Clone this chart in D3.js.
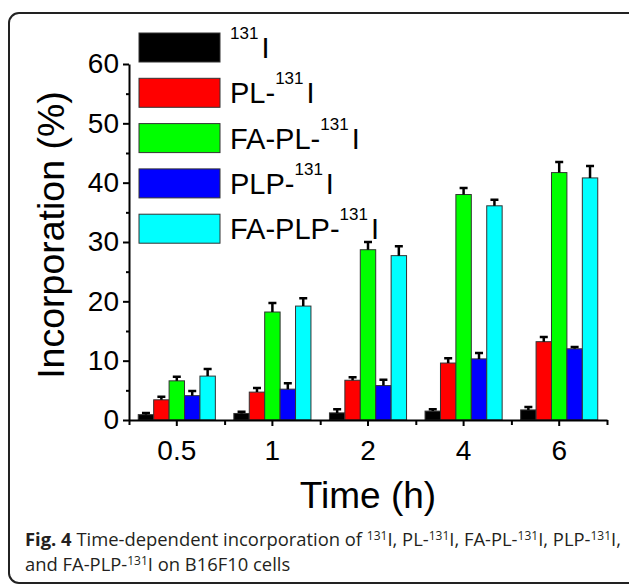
<!DOCTYPE html>
<html lang="en">
<head>
<meta charset="UTF-8">
<title>Time-dependent incorporation</title>
<script src="https://d3js.org/d3.v7.min.js"></script>
<style>
  body { margin: 0; background: #fff; }
  svg text { font-family: "Liberation Sans", Arial, sans-serif; fill: #000; }
</style>
</head>
<body>
<svg id="chart" width="629" height="584"></svg>
<script>
// data
const times = ["0.5", "1", "2", "4", "6"];
const seriesNames = ["", "PL-", "FA-PL-", "PLP-", "FA-PLP-"];   // prefix before 131I
const colors = ["#000000", "#ff0000", "#00ff00", "#0000ff", "#00ffff"];
const values = [
  [0.9, 1.1, 1.2, 1.5, 1.7],
  [3.4, 4.7, 6.7, 9.6, 13.2],
  [6.6, 18.2, 28.7, 38.0, 41.7],
  [4.1, 5.2, 5.8, 10.3, 12.0],
  [7.4, 19.2, 27.7, 36.1, 40.8]
];
const errors = [
  [0.3, 0.3, 0.6, 0.3, 0.5],
  [0.5, 0.7, 0.5, 0.8, 0.8],
  [0.7, 1.5, 1.3, 1.1, 1.8],
  [0.8, 1.0, 1.0, 1.0, 0.3],
  [1.2, 1.3, 1.6, 1.0, 2.0]
];
const yTicks = [0, 10, 20, 30, 40, 50, 60];
const yMinor = [5, 15, 25, 35, 45, 55];

const svg = d3.select("#chart");
const sans = "'Liberation Sans', Arial, sans-serif";

// rounded frame around figure
svg.append("rect")
  .attr("x", 9).attr("y", 13)
  .attr("width", 640).attr("height", 570)
  .attr("rx", 10)
  .attr("fill", "none").attr("stroke", "#222").attr("stroke-width", 2);

const y = d3.scaleLinear().domain([0, 60]).range([420, 64]);
const x0 = d3.scaleBand().domain(times).range([129, 607]);
const x1 = d3.scaleBand().domain(d3.range(seriesNames.length))
  .range([0, x0.bandwidth()]).paddingOuter(0.6);
const xEdges = d3.scaleLinear().domain([0, times.length]).range([129, 607]);

// superscript helper
function richText(sel, x, yPos, runs, size, supSize, rise) {
  const t = sel.append("text").attr("x", x).attr("y", yPos).style("font-size", size + "px");
  let up = false;
  runs.forEach(r => {
    const ts = t.append("tspan").text(r.t);
    if (r.sup) { ts.attr("dy", -rise).style("font-size", supSize + "px"); up = true; }
    else if (up) { ts.attr("dy", rise); up = false; }
    if (r.dx) ts.attr("dx", r.dx);
    if (r.bold) ts.style("font-weight", "bold");
  });
  return t;
}

// bars
const groups = svg.append("g").selectAll("g")
  .data(times)
  .join("g")
  .attr("transform", d => `translate(${x0(d)},0)`);

groups.selectAll("rect")
  .data((d, ti) => values.map((v, si) => ({ si, v: v[ti], e: errors[si][ti] })))
  .join("rect")
  .attr("x", d => x1(d.si))
  .attr("width", x1.bandwidth())
  .attr("y", d => y(d.v))
  .attr("height", d => y(0) - y(d.v))
  .attr("fill", d => colors[d.si])
  .attr("stroke", "#333")
  .attr("stroke-width", 1);

// error bars (upper only)
groups.selectAll("path.err")
  .data((d, ti) => values.map((v, si) => ({ si, v: v[ti], e: errors[si][ti] })))
  .join("path")
  .attr("class", "err")
  .attr("d", d => {
    const cx = x1(d.si) + x1.bandwidth() / 2;
    return `M${cx},${y(d.v)}V${y(d.v + d.e)}M${cx - 4},${y(d.v + d.e)}H${cx + 4}`;
  })
  .attr("fill", "none")
  .attr("stroke", "#000")
  .attr("stroke-width", 2.5);

// axes
const yAxis = svg.append("g").attr("transform", "translate(129,0)")
  .call(d3.axisLeft(y).tickValues(yTicks).tickSize(6).tickSizeOuter(0).tickPadding(4));
svg.append("g").attr("transform", "translate(129,0)")
  .call(d3.axisLeft(y).tickValues(yMinor).tickSize(3).tickFormat(""))
  .select(".domain").remove();

const xAxis = svg.append("g").attr("transform", "translate(0,420)")
  .call(d3.axisBottom(x0).tickSize(6).tickSizeOuter(0).tickPadding(14));
svg.append("g").attr("transform", "translate(0,420)")
  .call(d3.axisBottom(xEdges).tickValues(d3.range(times.length + 1)).tickSize(5).tickFormat(""))
  .select(".domain").remove();

svg.selectAll(".tick line, .domain").attr("stroke", "#000").attr("stroke-width", 2);
svg.selectAll(".tick text").attr("font-family", null).style("font-size", "28px").style("font-family", sans);

// axis titles
svg.append("text")
  .attr("transform", "translate(64,235) rotate(-90)")
  .attr("text-anchor", "middle")
  .style("font-size", "37.5px")
  .text("Incorporation (%)");

svg.append("text")
  .attr("x", 368).attr("y", 508)
  .attr("text-anchor", "middle")
  .style("font-size", "37px")
  .text("Time (h)");

// legend
const legend = svg.append("g");
seriesNames.forEach((name, i) => {
  const top = 33 + i * 45.3;
  legend.append("rect")
    .attr("x", 139).attr("y", top)
    .attr("width", 81).attr("height", 29)
    .attr("fill", colors[i]).attr("stroke", "#333").attr("stroke-width", 1);
  const runs = [];
  if (name) runs.push({ t: name });
  runs.push({ t: "131", sup: true });
  runs.push({ t: "I", dx: 3 });
  richText(legend, 230, top + 25, runs, 29, 17, 19);
});

// caption
const cap = svg.append("g");
const capFont = "'Open Sans', 'Noto Sans', sans-serif";
richText(cap, 25, 546, [
  { t: "Fig. 4", bold: true },
  { t: " Time-dependent incorporation of " },
  { t: "131", sup: true }, { t: "I, PL-" },
  { t: "131", sup: true }, { t: "I, FA-PL-" },
  { t: "131", sup: true }, { t: "I, PLP-" },
  { t: "131", sup: true }, { t: "I," }
], 18.4, 12, 6).style("font-family", capFont).style("fill", "#231f20");
richText(cap, 25, 571, [
  { t: "and FA-PLP-" },
  { t: "131", sup: true }, { t: "I on B16F10 cells" }
], 18.4, 12, 6).style("font-family", capFont).style("fill", "#231f20");
</script>
</body>
</html>
